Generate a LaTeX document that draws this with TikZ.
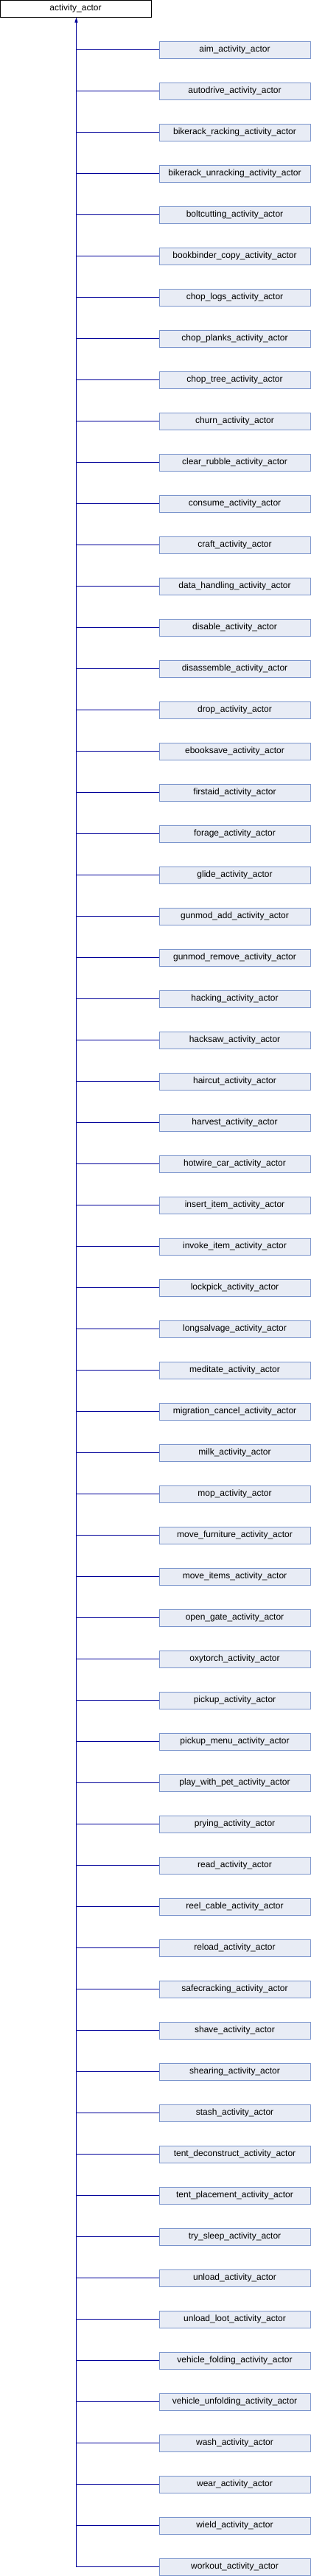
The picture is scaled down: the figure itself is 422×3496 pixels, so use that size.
\documentclass[tikz,border=0pt]{standalone}
\usepackage{fontspec}
\setmainfont{Liberation Sans}
\usetikzlibrary{arrows.meta}
\definecolor{boxfill}{RGB}{232,236,245}
\definecolor{boxline}{RGB}{122,148,204}
\definecolor{linkblue}{RGB}{0,0,153}

\begin{document}
\begin{tikzpicture}[x=1pt, y=-1pt,
	base/.style={draw=black, fill=white, line width=1pt, minimum width=205pt, minimum height=23pt, inner sep=0pt, font=\fontsize{12}{14}\selectfont},
	derived/.style={base, draw=boxline, fill=boxfill}]
	\useasboundingbox (0, 0) rectangle (422, 3496);
	\node [base] (actor) at (102.5, 11.5) {activity\_actor};
	\coordinate (trunk) at (103.5, 3484);
	\foreach \name [count=\i] in {aim, autodrive, bikerack\_racking, bikerack\_unracking, boltcutting, bookbinder\_copy, chop\_logs, chop\_planks, chop\_tree, churn, clear\_rubble, consume, craft, data\_handling, disable, disassemble, drop, ebooksave, firstaid, forage, glide, gunmod\_add, gunmod\_remove, hacking, hacksaw, haircut, harvest, hotwire\_car, insert\_item, invoke\_item, lockpick, longsalvage, meditate, migration\_cancel, milk, mop, move\_furniture, move\_items, open\_gate, oxytorch, pickup, pickup\_menu, play\_with\_pet, prying, read, reel\_cable, reload, safecracking, shave, shearing, stash, tent\_deconstruct, tent\_placement, try\_sleep, unload, unload\_loot, vehicle\_folding, vehicle\_unfolding, wash, wear, wield, workout} {
		\node [derived] (d\i) at (318.5, 11.5 + 56*\i) {\name\_activity\_actor};
		\draw [linkblue, line width=1pt] (d\i.west) -- (d\i.west -| trunk);
	}
	\draw [linkblue, line width=1pt, -{Triangle[width=4pt, length=7pt]}] (trunk) -- (trunk |- actor.south);
\end{tikzpicture}
\end{document}
